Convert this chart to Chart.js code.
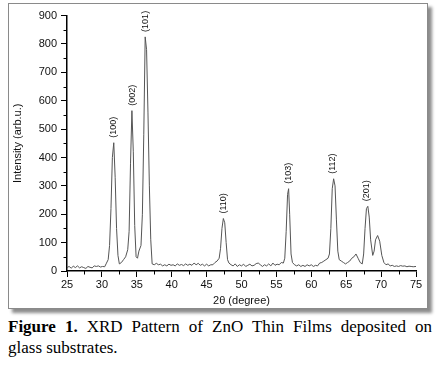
<!DOCTYPE html>
<html>
<head>
<meta charset="utf-8">
<script src="https://cdn.jsdelivr.net/npm/chart.js@4.4.0/dist/chart.umd.min.js"></script>
<style>
  html, body { margin: 0; padding: 0; background: #fff; }
  body { width: 436px; height: 367px; position: relative; overflow: hidden; }
  #frame { position: absolute; left: 8px; top: 3px; width: 418px; height: 304px;
           border: 1px solid #8a8a8a; background: #fff;
           box-shadow: 4px 4px 3px rgba(0,0,0,0.45); }
  #wrap { position: absolute; left: 1px; top: 1px; width: 417px; height: 303px; }
  #caption { position: absolute; left: 8px; top: 316px; width: 424px;
             font-family: "Liberation Serif", "DejaVu Serif", serif; font-size: 17px;
             line-height: 21px; color: #000; }
  #caption .l1 { text-align: justify; text-align-last: justify; white-space: nowrap; }
  #caption .l2 { text-align: left; }
  #caption b { font-weight: bold; }
</style>
</head>
<body>
<div id="frame"><div id="wrap"><canvas id="c" width="417" height="303"></canvas></div></div>
<div id="caption"><div class="l1"><b>Figure 1.</b> XRD Pattern of ZnO Thin Films deposited on</div><div class="l2">glass substrates.</div></div>
<script>
// 2-theta positions (degree)
const twoTheta = [25.0,25.3,25.6,25.9,26.2,26.5,26.8,27.1,27.4,27.7,28.0,28.3,28.6,28.9,29.2,29.5,29.8,30.1,30.4,30.6,30.9,31.1,31.3,31.5,31.7,31.9,32.1,32.3,32.5,32.8,33.1,33.4,33.7,33.9,34.1,34.3,34.5,34.7,34.9,35.1,35.3,35.6,35.8,36.0,36.2,36.4,36.6,36.8,37.0,37.2,37.5,37.8,38.1,38.4,38.7,39.0,39.3,39.6,39.9,40.2,40.5,40.8,41.1,41.4,41.7,42.0,42.3,42.6,42.9,43.2,43.5,43.8,44.1,44.4,44.7,45.0,45.3,45.6,45.9,46.2,46.5,46.8,47.0,47.2,47.4,47.6,47.8,48.0,48.2,48.5,48.8,49.1,49.4,49.7,50.0,50.3,50.6,50.9,51.2,51.5,51.8,52.1,52.4,52.7,53.0,53.3,53.6,53.9,54.2,54.5,54.8,55.1,55.4,55.7,56.0,56.2,56.4,56.6,56.75,56.9,57.1,57.3,57.6,57.9,58.2,58.5,58.8,59.1,59.4,59.7,60.0,60.3,60.6,60.9,61.2,61.5,61.8,62.1,62.4,62.6,62.8,63.0,63.2,63.4,63.6,63.8,64.0,64.3,64.6,64.9,65.2,65.5,65.8,66.1,66.4,66.7,67.0,67.3,67.5,67.7,67.9,68.1,68.3,68.5,68.8,69.0,69.2,69.5,69.8,70.1,70.4,70.7,71.0,71.3,71.6,71.9,72.2,72.5,72.8,73.1,73.4,73.7,74.0,74.3,74.6,75.0];
// intensity (arb.u.)
const intensity = [12,16,10,17,12,18,11,15,12,9,16,13,11,18,16,18,14,16,15,25,40,90,220,400,452,330,150,55,25,30,40,50,75,140,380,565,420,160,50,45,70,90,200,480,825,780,560,300,110,25,22,27,22,24,18,22,18,24,20,22,18,25,20,23,19,25,20,24,20,28,22,27,20,24,18,24,18,22,22,30,35,45,80,150,185,170,100,40,28,22,18,25,16,22,18,24,16,20,24,18,20,26,28,22,16,22,18,25,18,28,20,24,22,30,28,45,140,270,290,200,60,30,22,18,22,16,20,16,22,18,22,16,20,18,28,30,35,40,45,60,150,290,325,300,180,70,40,35,30,25,30,35,45,50,60,45,30,25,60,150,220,228,190,110,55,70,110,125,105,55,30,22,25,18,20,16,18,16,19,17,18,15,17,16,15,16];
// peak annotations
const peakLabels = ["(100)","(002)","(101)","(110)","(103)","(112)","(201)"];
const peakPos    = [31.7, 34.4, 36.3, 47.4, 56.7, 63.1, 67.9];
const peakTop    = [452, 565, 825, 185, 290, 325, 228];
// axis ticks
const xMin = 25, xMax = 75, xMajor = 5, xMinor = 2.5;
const yMin = 0, yMax = 900, yMajor = 100, yMinor = 50;

const points = twoTheta.map((x, i) => ({ x: x, y: intensity[i] }));

const tickFont = { family: "'Liberation Sans', Arial, sans-serif", size: 11 };

const minorTicks = {
  id: 'minorTicks',
  afterDraw(chart) {
    const ctx = chart.ctx;
    const xs = chart.scales.x, ys = chart.scales.y;
    ctx.save();
    ctx.strokeStyle = '#000';
    ctx.lineWidth = 1;
    ctx.beginPath();
    for (let v = xMin; v <= xMax + 1e-9; v += xMinor) {
      if (Math.abs(v / xMajor - Math.round(v / xMajor)) < 1e-6) continue;
      const px = Math.round(xs.getPixelForValue(v)) + 0.5;
      ctx.moveTo(px, chart.chartArea.bottom);
      ctx.lineTo(px, chart.chartArea.bottom + 3.5);
    }
    for (let v = yMin; v <= yMax + 1e-9; v += yMinor) {
      if (Math.abs(v / yMajor - Math.round(v / yMajor)) < 1e-6) continue;
      const py = Math.round(ys.getPixelForValue(v)) + 0.5;
      ctx.moveTo(chart.chartArea.left, py);
      ctx.lineTo(chart.chartArea.left - 3.5, py);
    }
    ctx.stroke();
    // peak labels
    ctx.fillStyle = '#111';
    ctx.font = "9px 'Liberation Sans', Arial, sans-serif";
    ctx.textAlign = 'left';
    ctx.textBaseline = 'middle';
    peakLabels.forEach((lab, i) => {
      const px = xs.getPixelForValue(peakPos[i]);
      const py = ys.getPixelForValue(peakTop[i]) - 5;
      ctx.save();
      ctx.translate(px, py);
      ctx.rotate(-Math.PI / 2);
      ctx.fillText(lab, 0, 0);
      ctx.restore();
    });
    ctx.restore();
  }
};

new Chart(document.getElementById('c'), {
  type: 'line',
  data: {
    datasets: [{
      data: points,
      borderColor: '#555',
      borderWidth: 1,
      pointRadius: 0,
      tension: 0,
      fill: false
    }]
  },
  options: {
    responsive: false,
    animation: false,
    layout: { padding: { left: 0, right: 11, top: 10, bottom: 0 } },
    plugins: { legend: { display: false }, tooltip: { enabled: false } },
    scales: {
      x: {
        type: 'linear', min: xMin, max: xMax,
        afterFit(s) { s.height = 37; },
        ticks: { stepSize: xMajor, color: '#111', font: tickFont, padding: 1, maxRotation: 0 },
        grid: { drawOnChartArea: false, tickLength: 6, tickColor: '#000', tickWidth: 1 },
        border: { display: true, color: '#000', width: 1.5 },
        title: { display: true, text: '2θ (degree)', color: '#111', font: tickFont, padding: { top: 0, bottom: 0 } }
      },
      y: {
        type: 'linear', min: yMin, max: yMax,
        afterFit(s) { s.width = 57; },
        ticks: { stepSize: yMajor, color: '#111', font: tickFont, padding: 4 },
        grid: { drawOnChartArea: false, tickLength: 6, tickColor: '#000', tickWidth: 1 },
        border: { display: true, color: '#000', width: 1.5 },
        title: { display: true, text: 'Intensity (arb.u.)', color: '#111', font: tickFont, padding: { top: 1, bottom: 0 } }
      }
    }
  },
  plugins: [minorTicks]
});
</script>
</body>
</html>
